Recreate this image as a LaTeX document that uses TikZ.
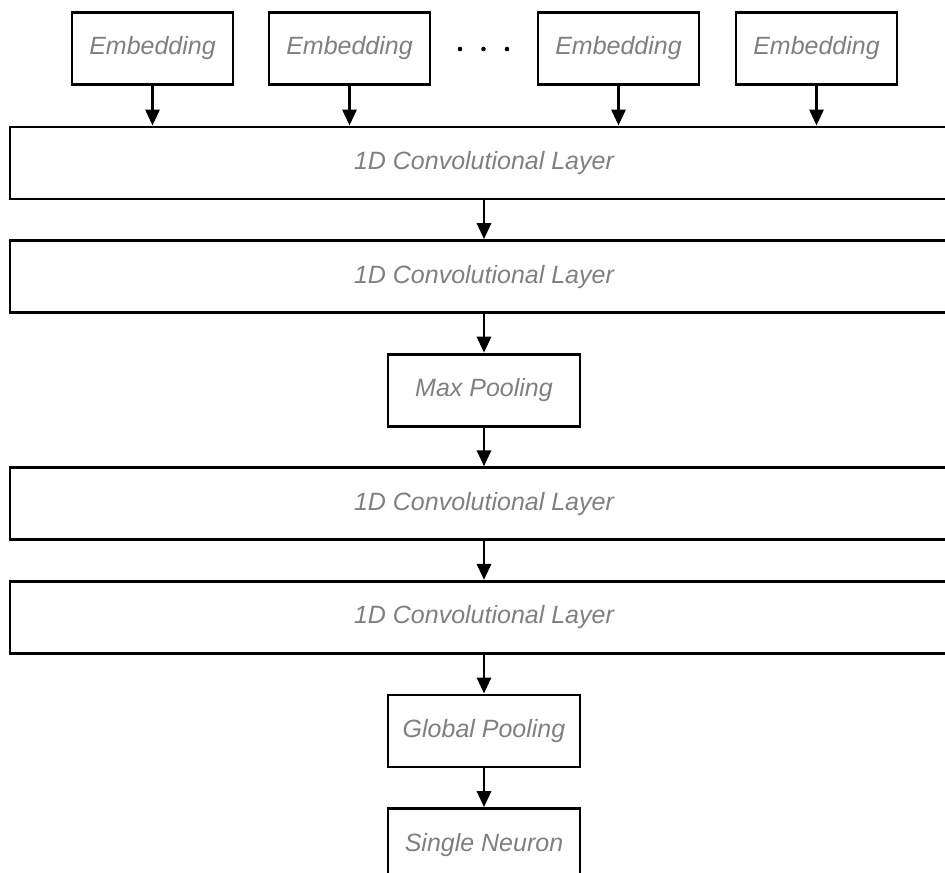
\documentclass[tikz,border=0pt]{standalone}
\usepackage{fontspec}
\setmainfont{Liberation Sans}
\usetikzlibrary{
  arrows.meta,
  positioning
}
\definecolor{cnnText}{RGB}{128,128,128}
\definecolor{cnnLine}{RGB}{0,0,0}
\tikzset{
  cnnbox/.style={
    draw=cnnLine,
    line width=2.2pt,
    align=center,
    minimum height=54pt,
    inner sep=0pt,
    fill=white,
    text=cnnText,
    font=\fontsize{18.75}{22}\selectfont\itshape
  },
  embbox/.style={
    cnnbox,
    minimum width=120.75pt
  },
  layerbox/.style={
    cnnbox,
    minimum width=711pt
  },
  poolbox/.style={
    cnnbox,
    minimum width=144pt
  },
  cnnarrow/.style={
    -{Triangle[length=12pt,width=10.5pt]},
    line width=2.2pt,
    draw=cnnLine
  }
}

\begin{document}
\begin{tikzpicture}[x=0.75pt, y=-0.75pt, node distance=29pt]
  \clip (0,0) rectangle (945,872);

  % input embeddings
  \node[embbox] (emb1) at (152.5,48.5) {Embedding};
  \node[embbox] (emb2) at (349.5,48.5) {Embedding};
  \node[embbox] (emb3) at (618.5,48.5) {Embedding};
  \node[embbox] (emb4) at (816.5,48.5) {Embedding};
  \foreach \x in {460,483.5,507}
    \fill (\x,49) circle (2.3);

  % convolution stack
  \node[layerbox] (conv1) at (484,163) {1D Convolutional Layer};
  \node[layerbox, below=of conv1] (conv2) {1D Convolutional Layer};
  \node[poolbox, below=of conv2] (maxpool) {Max Pooling};
  \node[layerbox, below=of maxpool] (conv3) {1D Convolutional Layer};
  \node[layerbox, below=of conv3] (conv4) {1D Convolutional Layer};
  \node[poolbox, below=of conv4] (globalpool) {Global Pooling};
  \node[poolbox, below=of globalpool] (neuron) {Single Neuron};

  \foreach \e in {emb1,emb2,emb3,emb4}
    \draw[cnnarrow] (\e) -- (\e |- conv1.north);
  \draw[cnnarrow] (conv1) -- (conv2);
  \draw[cnnarrow] (conv2) -- (maxpool);
  \draw[cnnarrow] (maxpool) -- (conv3);
  \draw[cnnarrow] (conv3) -- (conv4);
  \draw[cnnarrow] (conv4) -- (globalpool);
  \draw[cnnarrow] (globalpool) -- (neuron);
\end{tikzpicture}
\end{document}
